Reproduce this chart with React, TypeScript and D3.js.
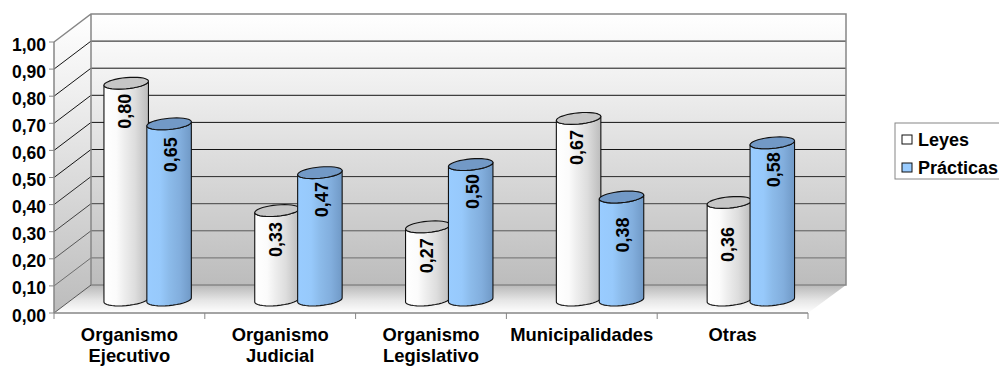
import React from "react";
import * as d3 from "d3";

const categories = [
  ["Organismo", "Ejecutivo"],
  ["Organismo", "Judicial"],
  ["Organismo", "Legislativo"],
  ["Municipalidades"],
  ["Otras"],
];
const leyes = [0.8, 0.33, 0.27, 0.67, 0.36];
const practicas = [0.65, 0.47, 0.5, 0.38, 0.58];
const seriesNames = ["Leyes", "Prácticas"];
const yTicks = [0, 0.1, 0.2, 0.3, 0.4, 0.5, 0.6, 0.7, 0.8, 0.9, 1];

const FONT = "'Liberation Sans', Arial, sans-serif";
const left = 54;
const right = 808;
const depthX = 37;
const depthY = -28;
const y0 = 313;
const y1 = 42;
const barW = 44.5;
const barDepth = 13; // how far behind the front edge the cylinder bases stand

// Extra drop of each rotated value label below the cylinder's cap
const labelDrop = [
  [28, 29, 29, 29, 42],
  [31, 27, 27, 38, 27],
];

const locale = d3.formatLocale({ decimal: ",", thousands: ".", grouping: [3], currency: ["", ""] });
const fmt = locale.format(".2f");

const yScale = d3.scaleLinear().domain([0, 1]).range([y0, y1]);
const xScale = d3
  .scaleBand<number>()
  .domain(d3.range(categories.length))
  .range([left, right]);
const gridColor = d3
  .scaleLinear<string>()
  .domain([0.1, 0.5])
  .range(["#6e6e6e", "#141414"])
  .clamp(true);

const angles = d3.range(0, 1.0001, 1 / 36).map((t) => t * Math.PI * 2);
const closed = d3.line<[number, number]>().curve(d3.curveLinearClosed);

// Point on the tilted elliptical rim of a cylinder
function rim(cx: number, cy: number, a: number): [number, number] {
  const rx = barW / 2;
  return [cx + rx * Math.cos(a), cy - 0.09 * rx * Math.cos(a) + 5.6 * Math.sin(a)];
}

function Cylinder({ cx, value, series }: { cx: number; value: number; series: number }) {
  const base = yScale(0) - barDepth;
  const top = yScale(value) - barDepth;
  const capPts = angles.map((a) => rim(cx, top, a));
  const lower = angles.filter((a) => a <= Math.PI + 1e-6);
  const bodyPts: [number, number][] = [
    ...lower.map((a) => rim(cx, base, a)),
    ...lower.slice().reverse().map((a) => rim(cx, top, a)),
  ];
  return (
    <g stroke="#111" strokeWidth={1.1} strokeLinejoin="round">
      <path d={closed(bodyPts) as string} fill={`url(#body${series})`} />
      <path d={closed(capPts) as string} fill={series === 0 ? "#c6c6c6" : "#7299c6"} />
    </g>
  );
}

export default function App() {
  const back = (x: number, y: number): [number, number] => [x + depthX, y + depthY];
  const wallTop = back(left, y1)[1];
  const wallBottom = back(left, y0)[1];
  const wallLeft = left + depthX;
  const wallRight = right + depthX + 1;
  const tickXs = [...xScale.domain().map((i) => xScale(i) as number), right];

  return (
    <svg
      width={999}
      height={366}
      viewBox="0 0 999 366"
      style={{ position: "absolute", left: 0, top: 0, display: "block" }}
      fontFamily={FONT}
      fontWeight="bold"
    >
      <defs>
        <linearGradient id="wall" x1="0" x2="0" y1="0" y2="1">
          <stop offset="0" stopColor="#ffffff" />
          <stop offset="0.25" stopColor="#f0f0f0" />
          <stop offset="1" stopColor="#bcbcbc" />
        </linearGradient>
        <linearGradient id="floor" x1="0" x2="0" y1="0" y2="1">
          <stop offset="0" stopColor="#b8b8b8" />
          <stop offset="0.55" stopColor="#e6e6e6" />
          <stop offset="1" stopColor="#ffffff" />
        </linearGradient>
        <linearGradient id="body0" x1="0" x2="1" y1="0" y2="0">
          <stop offset="0" stopColor="#ffffff" />
          <stop offset="0.28" stopColor="#fbfbfb" />
          <stop offset="0.45" stopColor="#eeeeee" />
          <stop offset="0.7" stopColor="#dddddd" />
          <stop offset="1" stopColor="#bcbcbc" />
        </linearGradient>
        <linearGradient id="body1" x1="0" x2="1" y1="0" y2="0">
          <stop offset="0" stopColor="#99ccff" />
          <stop offset="0.3" stopColor="#97c9fb" />
          <stop offset="0.5" stopColor="#8cbbea" />
          <stop offset="0.75" stopColor="#82aedd" />
          <stop offset="1" stopColor="#7099c6" />
        </linearGradient>
      </defs>

      {/* Side wall, back wall and floor */}
      <polygon
        points={[[left, y1], back(left, y1), back(left, y0), [left, y0]].join(" ")}
        fill="url(#wall)"
      />
      <rect x={wallLeft} y={wallTop} width={wallRight - wallLeft} height={wallBottom - wallTop} fill="url(#wall)" />
      <polygon
        points={[[left, y0], back(left, y0), [wallRight, wallBottom], [right, y0]].join(" ")}
        fill="url(#floor)"
      />

      {/* Gridlines across both walls */}
      {yTicks.slice(1, -1).map((t) => (
        <polyline
          key={t}
          points={[[left, yScale(t)], back(left, yScale(t)), [wallRight, yScale(t) + depthY]].join(" ")}
          stroke={gridColor(t)}
          strokeWidth={1}
          fill="none"
        />
      ))}
      <polyline
        points={[[left, y1], back(left, y1), [wallRight, wallTop], [wallRight, wallBottom], back(left, y0), back(left, y1)].join(" ")}
        fill="none"
        stroke="#868686"
        strokeWidth={1.5}
      />
      <line x1={left} y1={y0} x2={wallLeft} y2={wallBottom} stroke="#555" strokeWidth={1} />

      {/* Cylinders, each category drawn back series first */}
      {categories.map((_, i) => {
        const mid = (xScale(i) as number) + xScale.bandwidth() / 2 + depthX / 2;
        return (
          <g key={i}>
            <Cylinder cx={mid - 21.7} value={leyes[i]} series={0} />
            <Cylinder cx={mid + 21.2} value={practicas[i]} series={1} />
          </g>
        );
      })}

      {/* Rotated value labels */}
      {categories.map((_, i) => {
        const mid = (xScale(i) as number) + xScale.bandwidth() / 2 + depthX / 2;
        return [leyes[i], practicas[i]].map((v, s) => {
          const cx = mid + (s === 0 ? -23 : 23);
          const cy = yScale(v) - barDepth + labelDrop[s][i];
          return (
            <text
              key={s}
              transform={`translate(${cx},${cy}) rotate(-90)`}
              textAnchor="middle"
              dominantBaseline="central"
              fontSize={18}
              fill="#000"
            >
              {fmt(v)}
            </text>
          );
        });
      })}

      {/* Value axis */}
      <line x1={left} x2={left} y1={y1} y2={y0} stroke="#868686" strokeWidth={1.5} />
      {yTicks.map((t) => (
        <g key={t}>
          <line x1={left - 5} x2={left} y1={yScale(t)} y2={yScale(t)} stroke="#868686" />
          <text x={46} y={yScale(t) + 2.5} textAnchor="end" dominantBaseline="central" fontSize={17.5} fill="#000">
            {fmt(t)}
          </text>
        </g>
      ))}

      {/* Category axis */}
      <line x1={left} x2={right} y1={y0} y2={y0} stroke="#868686" strokeWidth={1.5} />
      {tickXs.map((x) => (
        <line key={x} x1={x} x2={x} y1={y0} y2={y0 + 6} stroke="#868686" />
      ))}
      {categories.map((lines, i) => (
        <text key={i} textAnchor="middle" fontSize={18.4} fill="#000">
          {lines.map((l, j) => (
            <tspan key={j} x={(xScale(i) as number) + xScale.bandwidth() / 2} y={341 + j * 21}>
              {l}
            </tspan>
          ))}
        </text>
      ))}

      {/* Legend */}
      <rect x={895} y={123} width={120} height={56} fill="#fff" stroke="#868686" strokeWidth={1} />
      {seriesNames.map((name, i) => (
        <g key={name}>
          <rect
            x={902}
            y={135 + i * 28}
            width={10}
            height={9}
            fill={i === 0 ? "#fff" : "#99ccff"}
            stroke="#111"
            strokeWidth={1}
          />
          <text x={918} y={146 + i * 28} fontSize={18} fill="#000">
            {name}
          </text>
        </g>
      ))}
    </svg>
  );
}
